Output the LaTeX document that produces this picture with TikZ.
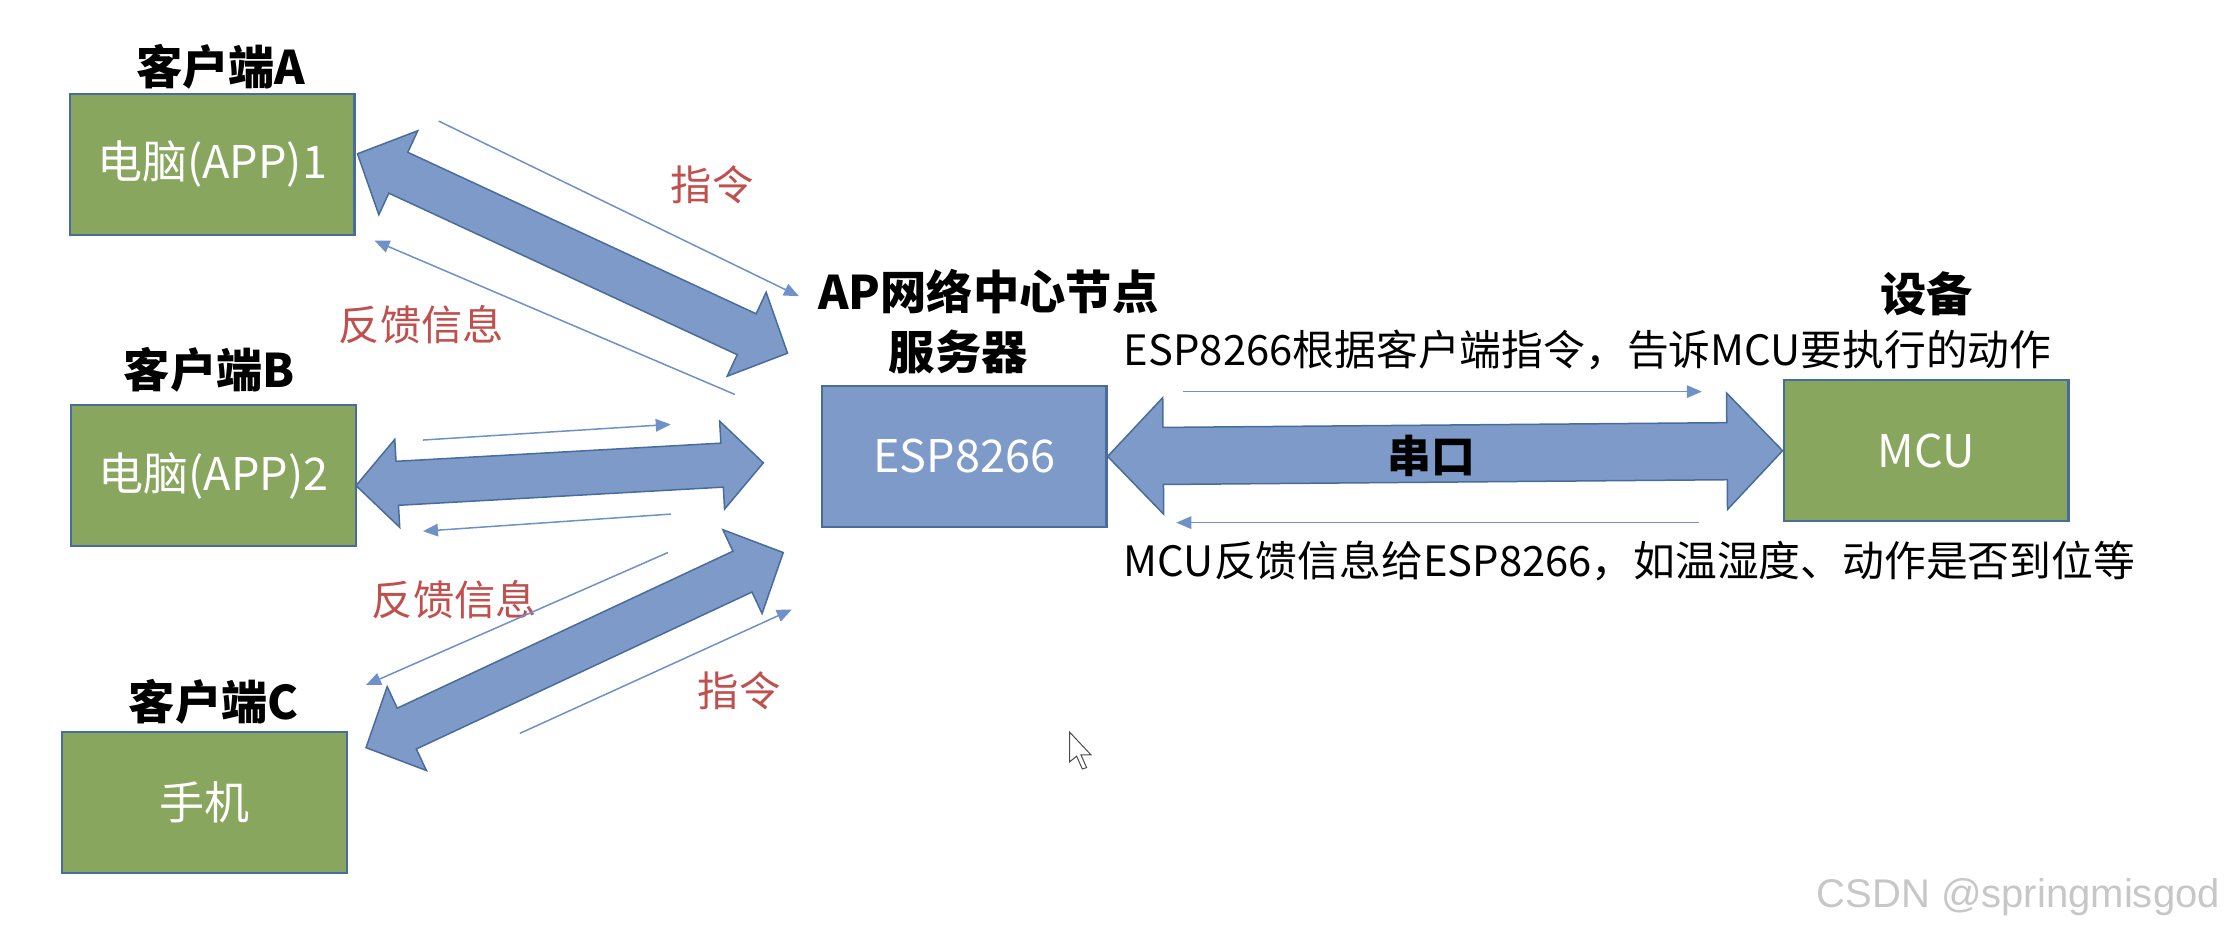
\documentclass[tikz,border=0pt]{standalone}
\usepackage{fontspec}
\setmainfont{Noto Sans CJK SC}
\newfontfamily\markfont{Liberation Sans}
\usetikzlibrary{calc,arrows.meta}

\definecolor{boxgreen}{RGB}{137,166,94}
\definecolor{boxblue}{RGB}{126,154,200}
\definecolor{edgeblue}{RGB}{72,108,155}
\definecolor{thinblue}{RGB}{110,145,200}
\definecolor{notered}{RGB}{192,80,77}

\newcommand{\twoway}[5]{%
  \coordinate (tw1) at ($(#1)!#5!(#2)$);
  \coordinate (tw2) at ($(#2)!#5!(#1)$);
  \draw[bigarrow] (#1) -- ($(tw1)!#4!90:(#2)$) -- ($(tw1)!#3!90:(#2)$)
    -- ($(tw2)!#3!-90:(#1)$) -- ($(tw2)!#4!-90:(#1)$) -- (#2)
    -- ($(tw2)!#4!90:(#1)$) -- ($(tw2)!#3!90:(#1)$)
    -- ($(tw1)!#3!-90:(#2)$) -- ($(tw1)!#4!-90:(#2)$) -- cycle;}

\begin{document}
\begin{tikzpicture}[x=0.2mm, y=-0.2mm,
    client/.style={rectangle, draw=edgeblue, line width=0.9pt, fill=boxgreen, minimum width=40mm, minimum height=19.8mm, text=white, font=\fontsize{18}{20}\selectfont},
    server/.style={client, fill=boxblue},
    heading/.style={font=\fontsize{18.5}{21}\selectfont\bfseries},
    note/.style={anchor=west, font=\fontsize{16.7}{20}\selectfont},
    redlabel/.style={text=notered, font=\fontsize{16.5}{19}\selectfont},
    bigarrow/.style={draw=edgeblue, line width=0.6pt, fill=boxblue, line join=miter},
    thin/.style={draw=thinblue, line width=0.6pt, -{Triangle[length=6pt, width=5pt]}}
]
\useasboundingbox (0,0) rectangle (1568,655);

\node[client] (pc1) at (149,115.5) {电脑(APP)1};
\node[client] (pc2) at (150,334) {电脑(APP)2};
\node[client] (phone) at (143.5,563.5) {手机};
\node[server] (esp) at (677,320.5) {ESP8266};
\node[client] (mcu) at (1352.5,316.5) {MCU};

\node[heading] (titleA) at (155,47) {客户端A};
\node[heading] (titleB) at (147,260) {客户端B};
\node[heading] (titleC) at (150,493) {客户端C};
\node[heading] (titleAP) at (694,205) {AP网络中心节点};
\node[heading] (titleSrv) at (673,247) {服务器};
\node[heading] (titleDev) at (1353,206) {设备};

\node[note] (tellmcu) at (783,246) {ESP8266根据客户端指令，告诉MCU要执行的动作};
\node[note] (feedmcu) at (783,394) {MCU反馈信息给ESP8266，如温湿度、动作是否到位等};

\node[redlabel] (cmdA) at (500,130) {指令};
\node[redlabel] (fbA) at (296,228) {反馈信息};
\node[redlabel] (fbC) at (319,421) {反馈信息};
\node[redlabel] (cmdC) at (519,485) {指令};

\coordinate (tipA) at (251,108);
\coordinate (hubA) at (553,248);
\coordinate (tipB) at (250,341);
\coordinate (hubB) at (536,325);
\coordinate (tipC) at (257,525);
\coordinate (hubC) at (550,388);

\twoway{tipA}{hubA}{9pt}{18.5pt}{18pt}
\twoway{tipB}{hubB}{8.8pt}{17.6pt}{16.5pt}
\twoway{tipC}{hubC}{9pt}{18.5pt}{18pt}
\twoway{esp.east}{mcu.west}{11.4pt}{23.3pt}{22.2pt}
\node[font=\fontsize{17.5}{20}\selectfont\bfseries] (uart) at (1005,320) {串口};

\coordinate (a1) at (308,85);
\coordinate (a2) at (561,208);
\coordinate (a3) at (516,277);
\coordinate (a4) at (263,169);
\coordinate (b1) at (297,309);
\coordinate (b2) at (471,298);
\coordinate (b3) at (471,361);
\coordinate (b4) at (297,373);
\coordinate (c1) at (469,388);
\coordinate (c2) at (257,481);
\coordinate (c3) at (365,515);
\coordinate (c4) at (556,428);
\coordinate (m1) at (831,275);
\coordinate (m2) at (1195,275);
\coordinate (m3) at (1193,367);
\coordinate (m4) at (826,367);

\draw[thin] (a1) -- (a2);
\draw[thin] (a3) -- (a4);
\draw[thin] (b1) -- (b2);
\draw[thin] (b3) -- (b4);
\draw[thin] (c1) -- (c2);
\draw[thin] (c3) -- (c4);
\draw[thin] (m1) -- (m2);
\draw[thin] (m3) -- (m4);

\draw[fill=white, draw=black!70, line width=0.4pt] (751,514) -- (751,535) -- (756,531) -- (760,540) -- (763,539) -- (759,530) -- (766,530) -- cycle;
\node[anchor=east, text=black!22, font=\markfont\fontsize{16}{18}\selectfont] (mark) at (1565,630) {CSDN @springmisgod};

\end{tikzpicture}
\end{document}
